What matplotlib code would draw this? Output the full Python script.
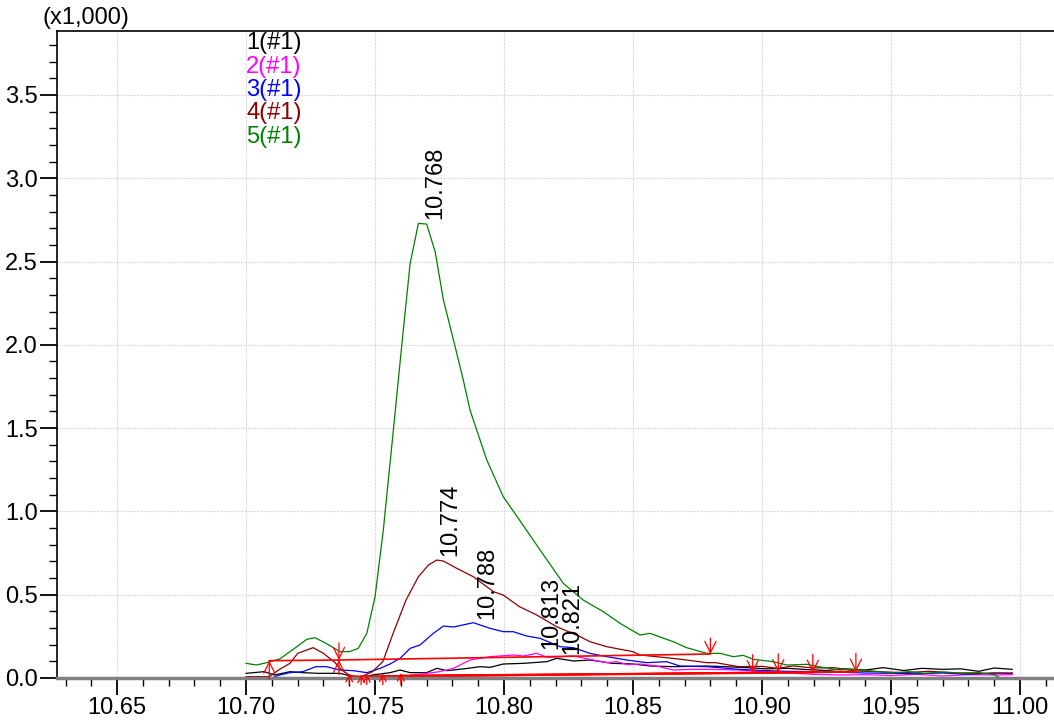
import matplotlib
matplotlib.use('Agg')
import matplotlib.pyplot as plt
from matplotlib.ticker import MultipleLocator, FuncFormatter

plt.rcParams['font.family'] = ['Liberation Sans', 'DejaVu Sans']

# chromatogram traces (retention time, intensity)
x1 = [10.700, 10.707, 10.711, 10.717, 10.722, 10.728, 10.7364, 10.7416, 10.744, 10.749,
      10.7558, 10.7597, 10.7636, 10.770, 10.7739, 10.778, 10.786, 10.7907, 10.7946, 10.7997,
      10.8075, 10.8166, 10.8204, 10.827, 10.8333, 10.842, 10.850, 10.8566, 10.8656, 10.8786,
      10.886, 10.894, 10.902, 10.910, 10.918, 10.925, 10.932, 10.940, 10.947, 10.955,
      10.962, 10.970, 10.977, 10.984, 10.990, 10.997]
y1 = [28, 38, 18, 38, 32, 28, 28, 8, -2, 18,
      32, 48, 32, 32, 58, 44, 58, 68, 64, 84,
      88, 98, 118, 102, 108, 88, 84, 72, 68, 72,
      68, 62, 55, 58, 50, 45, 55, 48, 62, 45,
      58, 52, 55, 40, 60, 52]

x2 = [10.700, 10.715, 10.725, 10.735, 10.745, 10.752, 10.7597, 10.770, 10.775, 10.7804,
      10.7868, 10.7946, 10.8036, 10.8075, 10.8127, 10.8166, 10.8269, 10.8333, 10.8398, 10.8437,
      10.848, 10.8527, 10.859, 10.8656, 10.873, 10.8786, 10.891, 10.900, 10.910, 10.920,
      10.930, 10.940, 10.950, 10.960, 10.970, 10.980, 10.990, 10.997]
y2 = [-10, -8, -12, -8, -5, 0, 8, 28, 38, 58,
      108, 128, 138, 132, 148, 124, 132, 112, 92, 98,
      80, 84, 72, 48, 52, 52, 48, 38, 30, 22,
      18, 20, 15, 22, 12, 20, 18, 20]

x3 = [10.700, 10.709, 10.713, 10.717, 10.722, 10.727, 10.731, 10.7364, 10.7416, 10.7468,
      10.752, 10.7558, 10.7597, 10.7636, 10.7674, 10.7726, 10.7765, 10.7804, 10.7881, 10.7946,
      10.7997, 10.8036, 10.8088, 10.814, 10.8217, 10.8269, 10.8333, 10.8398, 10.8476, 10.8553,
      10.863, 10.8682, 10.8786, 10.891, 10.900, 10.910, 10.920, 10.930, 10.940, 10.950,
      10.960, 10.970, 10.980, 10.990, 10.997]
y3 = [-8, -5, 18, 32, 38, 68, 68, 48, 44, 32,
      58, 84, 118, 178, 198, 268, 312, 306, 332, 298,
      278, 278, 252, 238, 188, 182, 148, 128, 108, 92,
      98, 72, 68, 52, 45, 40, 38, 35, 30, 28,
      25, 30, 22, 30, 28]

x4 = [10.700, 10.709, 10.713, 10.717, 10.720, 10.726, 10.730, 10.7345, 10.737, 10.740,
      10.744, 10.749, 10.753, 10.757, 10.762, 10.7668, 10.7707, 10.7739, 10.7765, 10.7817,
      10.7881, 10.7959, 10.7997, 10.806, 10.8127, 10.8204, 10.8295, 10.8333, 10.8398, 10.850,
      10.8527, 10.863, 10.8708, 10.8786, 10.882, 10.891, 10.900, 10.906, 10.912, 10.920,
      10.928, 10.936, 10.945, 10.955, 10.965, 10.975, 10.985, 10.997]
y4 = [8, 8, 52, 88, 148, 182, 148, 92, 48, 18,
      4, 38, 98, 268, 468, 608, 678, 708, 702, 658,
      608, 518, 498, 428, 378, 308, 248, 218, 188, 158,
      138, 122, 108, 92, 92, 68, 70, 58, 72, 60,
      62, 42, 38, 32, 40, 30, 28, 30]

x5 = [10.700, 10.704, 10.708, 10.713, 10.719, 10.7235, 10.7267, 10.731, 10.7364, 10.740,
      10.7435, 10.7468, 10.750, 10.7532, 10.7571, 10.7603, 10.7636, 10.7668, 10.770, 10.7733,
      10.7765, 10.7804, 10.7842, 10.7868, 10.7907, 10.7933, 10.7997, 10.806, 10.814, 10.823,
      10.8307, 10.8385, 10.845, 10.8527, 10.8566, 10.8656, 10.8708, 10.8786, 10.8837, 10.8889,
      10.8927, 10.8967, 10.9044, 10.9096, 10.9173, 10.922, 10.930, 10.935, 10.943, 10.950,
      10.957, 10.963, 10.970, 10.977, 10.984, 10.990, 10.993, 10.997]
y5 = [88, 78, 92, 114, 180, 232, 242, 208, 158, 158,
      178, 268, 488, 888, 1489, 1989, 2489, 2729, 2725, 2559,
      2269, 2029, 1789, 1609, 1429, 1309, 1088, 948, 768, 568,
      468, 398, 328, 258, 268, 218, 182, 148, 148, 128,
      136, 112, 98, 78, 82, 68, 48, 52, 42, 30,
      38, 28, 36, 30, 32, 20, -5, -5]

traces = [(x1, y1, 'black', '1(#1)'),
          (x2, y2, '#ff00ff', '2(#1)'),
          (x3, y3, '#0000ff', '3(#1)'),
          (x4, y4, '#8b0000', '4(#1)'),
          (x5, y5, '#008000', '5(#1)')]

# peak labels
peak_t = [10.768, 10.774, 10.788, 10.813, 10.821]
peak_h = [2729, 708, 332, 148, 118]

# integration baselines (start t, start y, end t, end y)
base_t0 = [10.709, 10.736, 10.740, 10.7446, 10.7468, 10.753, 10.760]
base_y0 = [104, 108, 10, 5, 8, 12, 15]
base_t1 = [10.736, 10.880, 10.8964, 10.9063, 10.9197, 10.9364, 10.9364]
base_y1 = [108, 144, 30, 35, 32, 38, 36]

fig = plt.figure(figsize=(10.54, 7.22), dpi=100)
ax = fig.add_axes([57/1054, 44/722, 1 - 57/1054, 647/722])

ax.grid(True, which='major', color='#dadada', linestyle='--', linewidth=0.8, dashes=(2, 1))
ax.set_axisbelow(True)

for x, y, c, lab in traces:
    ax.plot(x, y, color=c, linewidth=0.9)

# baselines and start/end arrows
for t0, b0, t1, b1 in zip(base_t0, base_y0, base_t1, base_y1):
    ax.plot([t0, t1], [b0, b1], color='red', linewidth=1.2)
arr = dict(arrowstyle='->', color='red', lw=0.9, mutation_scale=20, shrinkA=0, shrinkB=0)
ax.annotate('', xy=(10.709, 104), xytext=(10.709, -5), arrowprops=arr)
ax.annotate('', xy=(10.736, 108), xytext=(10.736, 20), arrowprops=arr)
ax.annotate('', xy=(10.736, 108), xytext=(10.736, 210), arrowprops=arr)
ax.annotate('', xy=(10.880, 144), xytext=(10.880, 240), arrowprops=arr)
for t0, b0 in zip(base_t0[2:], base_y0[2:]):
    ax.annotate('', xy=(t0, b0 + 15), xytext=(t0, -40), arrowprops=dict(arr, mutation_scale=12))
for t1, b1 in zip(base_t1[2:6], base_y1[2:6]):
    ax.annotate('', xy=(t1, b1), xytext=(t1, b1 + 110), arrowprops=arr)

for t, h in zip(peak_t, peak_h):
    ax.annotate(f'{t:.3f}', xy=(t, h), xytext=(2, 3), textcoords='offset points',
                rotation=90, ha='left', va='bottom', fontsize=17, color='black')

# legend as coloured text
tr = ax.get_xaxis_transform()
leg_y = [0.981, 0.944, 0.909, 0.873, 0.836]
for (x, y, c, lab), ly in zip(traces, leg_y):
    ax.text(10.700, ly, lab, color=c, fontsize=17, transform=tr, ha='left', va='center')

ax.set_xlim(10.6267, 11.0132)
ax.set_ylim(0, 3884)
ax.xaxis.set_major_locator(MultipleLocator(0.05))
ax.xaxis.set_minor_locator(MultipleLocator(0.01))
ax.yaxis.set_major_locator(MultipleLocator(500))
ax.yaxis.set_minor_locator(MultipleLocator(100))
ax.xaxis.set_major_formatter(FuncFormatter(lambda v, p: f'{v:.2f}'))
ax.yaxis.set_major_formatter(FuncFormatter(lambda v, p: f'{v/1000:.1f}'))
ax.tick_params(which='major', direction='out', length=12, width=1.3, labelsize=17, pad=2)
ax.tick_params(which='minor', direction='out', length=6, width=1.0)

ax.spines['right'].set_visible(False)
ax.spines['bottom'].set_color('#808080')
ax.spines['bottom'].set_linewidth(2.5)
ax.spines['left'].set_linewidth(1.2)
ax.spines['top'].set_linewidth(1.2)

fig.text(42/1054, 1 - 18/722, '(x1,000)', fontsize=17, ha='left', va='center')

fig.savefig('out.png', dpi=100)
